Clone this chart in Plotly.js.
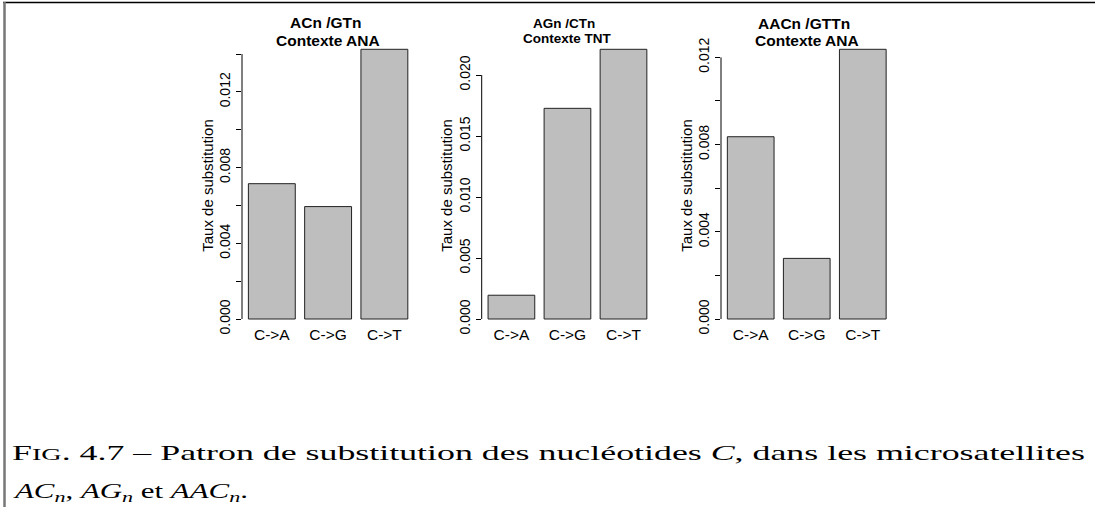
<!DOCTYPE html>
<html>
<head>
<meta charset="utf-8">
<script src="https://cdn.plot.ly/plotly-3.0.1.min.js"></script>
<style>html,body{margin:0;padding:0;background:#fff;} #chart{width:1095px;height:507px;}</style>
</head>
<body>
<div id="chart"></div>
<script>
// ---- data ----
const categories = ['C->A', 'C->G', 'C->T'];
const rateACn  = [0.00715, 0.00594, 0.01425];
const rateAGn  = [0.00195, 0.01727, 0.02211];
const rateAACn = [0.00836, 0.00278, 0.01237];

const titleACn  = ['ACn /GTn', 'Contexte ANA'];
const titleAGn  = ['AGn /CTn', 'Contexte TNT'];
const titleAACn = ['AACn /GTTn', 'Contexte ANA'];

// all tick marks, and the labelled ones
const ticksACn   = [0, 0.002, 0.004, 0.006, 0.008, 0.010, 0.012, 0.014];
const labValACn  = [0, 0.004, 0.008, 0.012];
const labTxtACn  = ['0.000', '0.004', '0.008', '0.012'];
const ticksAGn   = [0, 0.005, 0.010, 0.015, 0.020];
const labValAGn  = [0, 0.005, 0.010, 0.015, 0.020];
const labTxtAGn  = ['0.000', '0.005', '0.010', '0.015', '0.020'];
const ticksAACn  = [0, 0.002, 0.004, 0.006, 0.008, 0.010, 0.012];
const labValAACn = [0, 0.004, 0.008, 0.012];
const labTxtAACn = ['0.000', '0.004', '0.008', '0.012'];

const yLabel = 'Taux de substitution';
const subN = '<span style="font-size:15px;baseline-shift:-4px">n</span>';
const captionLine1 = 'F<span style="font-size:16.5px">IG</span>. 4.7 – Patron de substitution des nucléotides <i>C</i>, dans les microsatellites';
const captionLine2 = '<i>AC' + subN + '</i>, <i>AG' + subN + '</i> et <i>AAC' + subN + '</i>.';

// ---- layout helpers ----
const W = 1095, H = 507;
const panels = [
  {vals: rateACn,  title: titleACn,  ticks: ticksACn,  lv: labValACn,  lt: labTxtACn,  x0: 242,   x1: 414.2, tsize: 15.5, ty: [22.5, 41]},
  {vals: rateAGn,  title: titleAGn,  ticks: ticksAGn,  lv: labValAGn,  lt: labTxtAGn,  x0: 481.7, x1: 653.2, tsize: 13.5, ty: [23, 38.5]},
  {vals: rateAACn, title: titleAACn, ticks: ticksAACn, lv: labValAACn, lt: labTxtAACn, x0: 721,   x1: 892.5, tsize: 15.5, ty: [23.5, 41]}
];
const yDom = [(H - 332.6) / H, (H - 38.4) / H];

// R barplot geometry: width 1, space 0.2, 4% axis extension
const n = categories.length;
const spanR = n * 1.2 - 0.2;
const extR = 0.04 * spanR;
const xRange = [(0.2 - extR - 0.7) / 1.2, (0.2 + spanR + extR - 0.7) / 1.2];

const data = [];
const layout = {
  width: W, height: H,
  margin: {l: 0, r: 0, t: 0, b: 0},
  paper_bgcolor: '#fff', plot_bgcolor: '#fff',
  showlegend: false,
  bargap: 1 - 1 / 1.2,
  font: {family: '"Liberation Sans", Arial, sans-serif', color: '#000'},
  annotations: [],
  shapes: [
    {type: 'line', xref: 'paper', yref: 'paper', x0: 3 / W, x1: 1, y0: 1 - 2.5 / H, y1: 1 - 2.5 / H, line: {color: '#000', width: 1.5}},
    {type: 'line', xref: 'paper', yref: 'paper', x0: 4.5 / W, x1: 4.5 / W, y0: 0, y1: 1 - 2 / H, line: {color: '#777', width: 2.5}}
  ]
};

panels.forEach((p, i) => {
  const k = i === 0 ? '' : String(i + 1);
  const xa = 'x' + k, ya = 'y' + k;
  data.push({
    type: 'bar', x: categories, y: p.vals, xaxis: xa, yaxis: ya,
    marker: {color: '#BEBEBE', line: {color: '#222', width: 1}},
    hoverinfo: 'x+y'
  });
  const mx = Math.max(...p.vals);
  const lo = -0.01 * mx, hi = mx;
  const ext = 0.04 * (hi - lo);
  layout['xaxis' + k] = {
    domain: [p.x0 / W, p.x1 / W], range: xRange, type: 'category',
    anchor: 'free', position: (H - 323.5) / H,
    showline: false, ticks: '', showgrid: false, zeroline: false,
    tickfont: {size: 15.5}
  };
  layout['yaxis' + k] = {
    domain: yDom, range: [lo - ext, hi + ext], anchor: xa,
    tickmode: 'array', tickvals: p.lv, ticktext: p.lt, tickangle: -90,
    ticks: 'outside', ticklen: 5, tickwidth: 1, tickcolor: '#000',
    minor: {tickmode: 'array', tickvals: p.ticks, ticks: 'outside', ticklen: 5, tickwidth: 1, tickcolor: '#000', showgrid: false},
    showline: false, showgrid: false, zeroline: false,
    tickfont: {size: 14},
    title: {text: yLabel, font: {size: 15}, standoff: 0},
    automargin: false
  };
  layout.shapes.push({
    type: 'line', xref: xa + ' domain', yref: ya, x0: 0, x1: 0,
    y0: p.ticks[0], y1: p.ticks[p.ticks.length - 1], line: {color: '#000', width: 1}
  });
  const cx = (p.x0 + p.x1) / 2 / W;
  layout.annotations.push(
    {xref: 'paper', yref: 'paper', x: cx - 3 / W, y: (H - p.ty[0]) / H, text: '<b>' + p.title[0] + '</b>',
     showarrow: false, xanchor: 'center', yanchor: 'middle', font: {size: p.tsize}},
    {xref: 'paper', yref: 'paper', x: cx, y: (H - p.ty[1]) / H, text: '<b>' + p.title[1] + '</b>',
     showarrow: false, xanchor: 'center', yanchor: 'middle', font: {size: p.tsize}}
  );
});

layout.annotations.push(
  {xref: 'paper', yref: 'paper', x: 12 / W, y: (H - 453) / H, text: captionLine1,
   showarrow: false, xanchor: 'left', yanchor: 'middle',
   font: {family: '"Liberation Serif", "DejaVu Serif", serif', size: 21}},
  {xref: 'paper', yref: 'paper', x: 12 / W, y: (H - 492) / H, text: captionLine2,
   showarrow: false, xanchor: 'left', yanchor: 'middle',
   font: {family: '"Liberation Serif", "DejaVu Serif", serif', size: 21}}
);

// the caption in the reference is set in a wide, justified font: stretch it to its printed width
const captionLeft = 12;
const captionWidths = [1073, 233];

Plotly.newPlot('chart', data, layout, {displayModeBar: false, staticPlot: true}).then(gd => {
  const svgRect = gd.querySelector('svg.main-svg').getBoundingClientRect();
  gd.querySelectorAll('.annotation-text').forEach(t => {
    const s = t.textContent;
    let w = null;
    if (s.indexOf('Patron') >= 0) w = captionWidths[0];
    else if (s.indexOf(' et ') >= 0) w = captionWidths[1];
    if (!w) return;
    t.setAttribute('textLength', w);
    t.setAttribute('lengthAdjust', 'spacingAndGlyphs');
    const r = t.getBoundingClientRect();
    const dx = captionLeft - (r.left - svgRect.left);
    const cur = parseFloat(t.getAttribute('x')) || 0;
    t.setAttribute('x', cur + dx);
    t.querySelectorAll('tspan[x]').forEach(ts => {
      ts.setAttribute('x', parseFloat(ts.getAttribute('x')) + dx);
    });
  });
});
</script>
</body>
</html>
